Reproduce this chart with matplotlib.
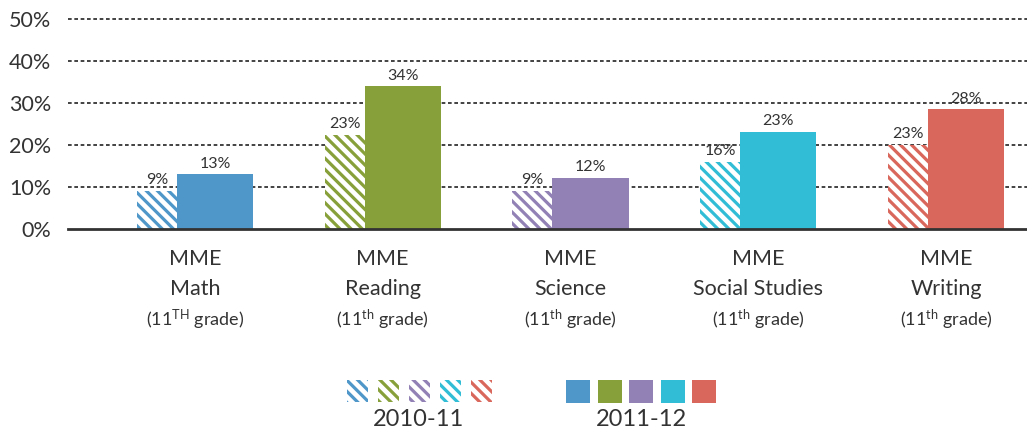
import matplotlib
matplotlib.use("Agg")
import matplotlib.pyplot as plt
import numpy as np
from matplotlib.patches import Rectangle
from matplotlib.transforms import blended_transform_factory

# ---- data ----
subjects = ["Math", "Reading", "Science", "Social Studies", "Writing"]
grade_labels = [r"(11$^{\mathrm{TH}}$ grade)", r"(11$^{\mathrm{th}}$ grade)", r"(11$^{\mathrm{th}}$ grade)",
                r"(11$^{\mathrm{th}}$ grade)", r"(11$^{\mathrm{th}}$ grade)"]
values_2010 = [9.1, 22.4, 9.1, 16.0, 20.0]        # bar heights as drawn
labels_2010 = ["9%", "23%", "9%", "16%", "23%"]   # printed labels
values_2012 = [13.1, 34.0, 12.2, 23.2, 28.5]
labels_2012 = ["13%", "34%", "12%", "23%", "28%"]
colors = ["#4F97C9", "#88A03A", "#9181B5", "#31BDD5", "#D9675C"]
yticks = [0, 10, 20, 30, 40, 50]
ytick_labels = ["0%", "10%", "20%", "30%", "40%", "50%"]
legend_titles = ["2010-11", "2011-12"]

FONT = "Lato"
TXT = "#333333"
plt.rcParams["font.family"] = [FONT, "DejaVu Sans"]
plt.rcParams["mathtext.fontset"] = "custom"
plt.rcParams["mathtext.rm"] = FONT
plt.rcParams["mathtext.it"] = FONT
plt.rcParams["mathtext.bf"] = FONT
plt.rcParams["hatch.linewidth"] = 2.3

W, H = 1027, 432
fig = plt.figure(figsize=(W / 100, H / 100), dpi=100)
ax = fig.add_axes([68 / W, 1 - 229 / H, 1 - 68 / W, (229 - 19) / H])

x = np.arange(len(subjects))
w_h = 0.213
w_s = 0.405
ax.set_xlim(-0.367, 4.74)
ax.set_ylim(0, 50)

# grid
for yv in yticks[1:]:
    ax.axhline(yv, color="#222222", lw=1.2, linestyle=(0, (2.2, 1.6)), zorder=0, clip_on=False)

bh = ax.bar(x, values_2010, width=w_h, align="edge", facecolor="white",
            edgecolor=colors, linewidth=0, hatch="\\\\\\", zorder=2)
bs = ax.bar(x + w_h, values_2012, width=w_s, align="edge", color=colors, zorder=2)

for i in range(len(subjects)):
    ax.annotate(labels_2010[i], (x[i] + w_h / 2, values_2010[i]), xytext=(0, 3),
                textcoords="offset points", ha="center", va="bottom", fontsize=11.5, color=TXT)
    ax.annotate(labels_2012[i], (x[i] + w_h + w_s / 2, values_2012[i]), xytext=(0, 2.5),
                textcoords="offset points", ha="center", va="bottom", fontsize=11.5, color=TXT)

ax.axhline(0, color="#333333", lw=2, zorder=3, clip_on=False)

for s in ax.spines.values():
    s.set_visible(False)
ax.set_xticks([])
ax.set_yticks(yticks)
ax.set_yticklabels(ytick_labels, fontsize=15.5, color=TXT)
ax.tick_params(axis="y", length=0, pad=12)

# category labels
tr = blended_transform_factory(ax.transData, fig.transFigure)
for i, s in enumerate(subjects):
    cx = x[i] + (w_h + w_s) / 2
    ax.text(cx, 1 - 265 / H, "MME", transform=tr, ha="center", va="baseline", fontsize=15.5, color=TXT)
    ax.text(cx, 1 - 295 / H, s, transform=tr, ha="center", va="baseline", fontsize=15.5, color=TXT)
    ax.text(cx, 1 - 326 / H, grade_labels[i], transform=tr, ha="center", va="baseline", fontsize=13, color=TXT)

# legend overlay
lax = fig.add_axes([0, 0, 1, 1], zorder=5)
lax.set_xlim(0, W)
lax.set_ylim(H, 0)
lax.axis("off")
for i, c in enumerate(colors):
    lax.add_patch(Rectangle((347 + i * 31, 380), 21, 22, facecolor="white", edgecolor=c,
                            linewidth=0, hatch="\\\\\\"))
    lax.add_patch(Rectangle((566 + i * 31.5, 380), 24, 23, facecolor=c, linewidth=0))
lax.text(418, 419, legend_titles[0], ha="center", va="center", fontsize=17, color=TXT)
lax.text(641, 419, legend_titles[1], ha="center", va="center", fontsize=17, color=TXT)

fig.savefig("out.png", dpi=100, facecolor="white")
